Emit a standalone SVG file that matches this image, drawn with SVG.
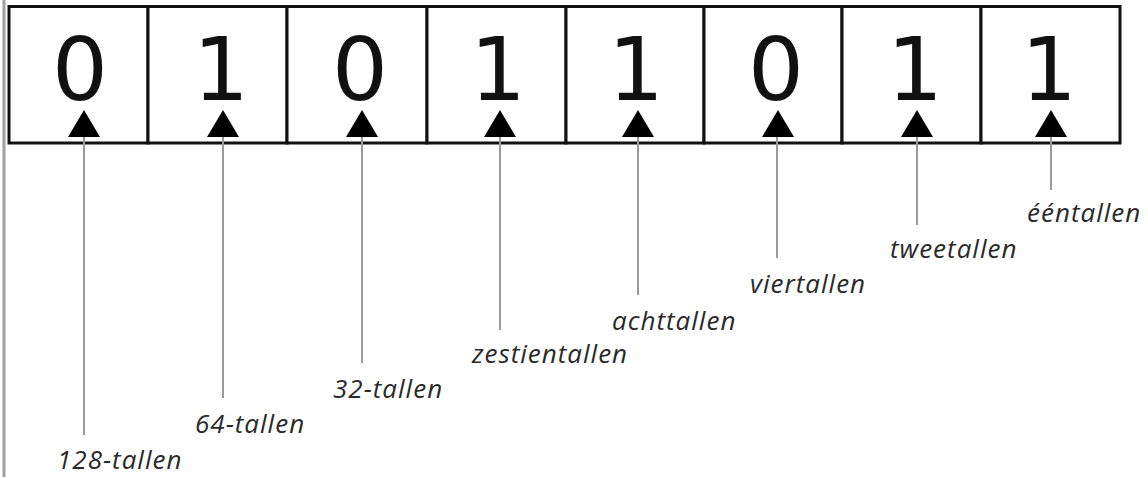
<svg xmlns="http://www.w3.org/2000/svg" width="1148" height="477" viewBox="0 0 1148 477">
<style>
.cell{fill:#fff;stroke:#111;stroke-width:3}
.digit{font-family:"DejaVu Sans",sans-serif;font-size:88px;fill:#111;text-anchor:middle}
.lbl{font-family:"Open Sans",sans-serif;font-style:italic;font-size:26px;letter-spacing:1px;fill:#2a2a2a}
.conn{stroke:#9a9a9a;stroke-width:2}
.arr{fill:#000}
</style>
<rect x="0" y="0" width="1148" height="477" fill="#fff"/>
<line x1="4" y1="0" x2="4" y2="477" stroke="#a0a0a0" stroke-width="3"/>
<g id="bits">
<g id="bit7"><rect class="cell" x="9" y="6.5" width="139" height="136.5"/><text class="digit" x="80" y="100">0</text></g>
<g id="bit6"><rect class="cell" x="148" y="6.5" width="139" height="136.5"/><text class="digit" x="221" y="100">1</text></g>
<g id="bit5"><rect class="cell" x="287" y="6.5" width="140" height="136.5"/><text class="digit" x="360" y="100">0</text></g>
<g id="bit4"><rect class="cell" x="427" y="6.5" width="139" height="136.5"/><text class="digit" x="498" y="100">1</text></g>
<g id="bit3"><rect class="cell" x="566" y="6.5" width="138" height="136.5"/><text class="digit" x="636" y="100">1</text></g>
<g id="bit2"><rect class="cell" x="704" y="6.5" width="138" height="136.5"/><text class="digit" x="776" y="100">0</text></g>
<g id="bit1"><rect class="cell" x="842" y="6.5" width="139" height="136.5"/><text class="digit" x="915" y="100">1</text></g>
<g id="bit0"><rect class="cell" x="981" y="6.5" width="139" height="136.5"/><text class="digit" x="1049" y="100">1</text></g>
</g>
<g id="connectors">
<line class="conn" x1="84" y1="135" x2="84" y2="435"/>
<line class="conn" x1="223" y1="135" x2="223" y2="398"/>
<line class="conn" x1="362" y1="135" x2="362" y2="363"/>
<line class="conn" x1="500" y1="135" x2="500" y2="330"/>
<line class="conn" x1="638" y1="135" x2="638" y2="295"/>
<line class="conn" x1="777" y1="135" x2="777" y2="258"/>
<line class="conn" x1="917" y1="135" x2="917" y2="225"/>
<line class="conn" x1="1051" y1="135" x2="1051" y2="190"/>
<polygon class="arr" points="84,110 100,137 68,137"/>
<polygon class="arr" points="223,110 239,137 207,137"/>
<polygon class="arr" points="362,110 378,137 346,137"/>
<polygon class="arr" points="500,110 516,137 484,137"/>
<polygon class="arr" points="638,110 654,137 622,137"/>
<polygon class="arr" points="778,110 794,137 762,137"/>
<polygon class="arr" points="917,110 933,137 901,137"/>
<polygon class="arr" points="1051,110 1067,137 1035,137"/>
</g>
<g id="labels">
<text class="lbl" x="57" y="469">128-tallen</text>
<text class="lbl" x="195" y="433">64-tallen</text>
<text class="lbl" x="333" y="398">32-tallen</text>
<text class="lbl" x="472" y="363">zestientallen</text>
<text class="lbl" x="612" y="330">achttallen</text>
<text class="lbl" x="750" y="293">viertallen</text>
<text class="lbl" x="890" y="258">tweetallen</text>
<text class="lbl" x="1027" y="222">ééntallen</text>
</g>
</svg>
